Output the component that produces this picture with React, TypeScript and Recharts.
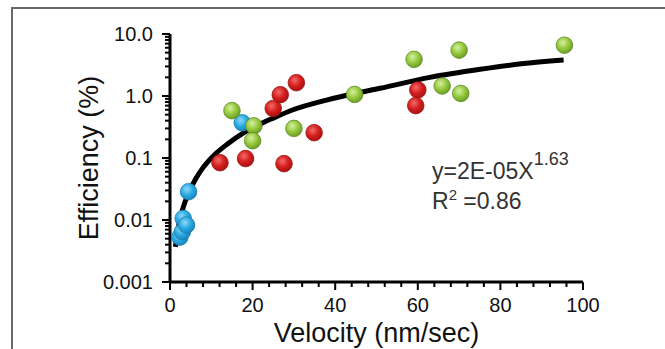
import { ScatterChart, Scatter, XAxis, YAxis } from "recharts"

const greenPoints = [
  { x: 15.0, y: 0.58 },
  { x: 20.3, y: 0.33 },
  { x: 20.0, y: 0.19 },
  { x: 30.0, y: 0.3 },
  { x: 44.7, y: 1.06 },
  { x: 59.1, y: 3.9 },
  { x: 70.0, y: 5.5 },
  { x: 95.5, y: 6.6 },
  { x: 65.9, y: 1.45 },
  { x: 70.4, y: 1.1 },
]

const redPoints = [
  { x: 12.1, y: 0.084 },
  { x: 18.3, y: 0.098 },
  { x: 27.6, y: 0.081 },
  { x: 25.0, y: 0.63 },
  { x: 26.7, y: 1.05 },
  { x: 30.6, y: 1.64 },
  { x: 34.9, y: 0.256 },
  { x: 60.0, y: 1.25 },
  { x: 59.5, y: 0.7 },
]

const bluePoints = [
  { x: 17.5, y: 0.37 },
  { x: 4.5, y: 0.0286 },
  { x: 3.2, y: 0.0106 },
  { x: 2.4, y: 0.0053 },
  { x: 3.0, y: 0.0065 },
  { x: 4.0, y: 0.0083 },
]

// fitted curve
const fitX = [1.3, 2.2, 3.2, 4.5, 6.3, 8, 10.3, 14, 17.6, 21.7, 25, 29.8, 37.9, 44.7, 50.8, 62.9, 75.1, 85, 95.3]
const fitY = [0.0037, 0.0088, 0.016, 0.027, 0.047, 0.07, 0.105, 0.17, 0.25, 0.35, 0.44, 0.6, 0.86, 1.1, 1.33, 2.0, 2.7, 3.3, 3.8]
const fitCurve = fitX.map((x, i) => ({ x, y: fitY[i] }))

const xTicks = [0, 4, 8, 12, 16, 20, 24, 28, 32, 36, 40, 44, 48, 52, 56, 60, 64, 68, 72, 76, 80, 84, 88, 92, 96, 100]
const xMajor = [0, 20, 40, 60, 80, 100]

const yMajor = [0.001, 0.01, 0.1, 1, 10]
const yMajorLabels = ["0.001", "0.01", "0.1", "1.0", "10.0"]
const yMinor = [
  0.002, 0.003, 0.004, 0.005, 0.006, 0.007, 0.008, 0.009,
  0.02, 0.03, 0.04, 0.05, 0.06, 0.07, 0.08, 0.09,
  0.2, 0.3, 0.4, 0.5, 0.6, 0.7, 0.8, 0.9,
  2, 3, 4, 5, 6, 7, 8, 9,
]
const yTicks = [...yMajor, ...yMinor].sort((a, b) => a - b)

const FONT = "'Liberation Sans', Arial, Helvetica, sans-serif"

const XTick = (props: any) => {
  const { x, y, payload } = props
  const major = xMajor.includes(payload.value)
  return (
    <g>
      <line x1={x} y1={y} x2={x} y2={y + (major ? 8 : 5)} stroke="#000" strokeWidth={2} />
      {major && (
        <text x={x} y={y + 30} textAnchor="middle" fontSize={20} fontFamily={FONT} fill="#111">
          {payload.value}
        </text>
      )}
    </g>
  )
}

const YTick = (props: any) => {
  const { x, y, payload } = props
  const idx = yMajor.findIndex((v) => Math.abs(v - payload.value) < 1e-9)
  const major = idx >= 0
  return (
    <g>
      <line x1={x} y1={y} x2={x - (major ? 8 : 5)} y2={y} stroke="#000" strokeWidth={2} />
      {major && (
        <text x={x - 17} y={y} dy="0.35em" textAnchor="end" fontSize={20} fontFamily={FONT} fill="#111">
          {yMajorLabels[idx]}
        </text>
      )}
    </g>
  )
}

const XTitle = (props: any) => {
  const { x, y, width, height } = props.viewBox
  return (
    <text x={x + width / 2} y={y + height - 7} textAnchor="middle" fontSize={27} fontFamily={FONT} fill="#111">
      Velocity (nm/sec)
    </text>
  )
}

const YTitle = (props: any) => {
  const { y, height } = props.viewBox
  const cx = 98
  const cy = y + height / 2
  return (
    <text x={cx} y={cy} transform={`rotate(-90, ${cx}, ${cy})`} textAnchor="middle" fontSize={27} fontFamily={FONT} fill="#111">
      Efficiency (%)
    </text>
  )
}

const ball = (id: string, fallback: string, edge: string) => (props: any) => (
  <circle cx={props.cx} cy={props.cy} r={8.3} fill={`url(#${id}) ${fallback}`} stroke={edge} strokeWidth={0.8} />
)

export default function App() {
  return (
    <div style={{ position: "absolute", left: 0, top: 0, width: 665, height: 349, background: "#fff" }}>
      <svg width={0} height={0} style={{ position: "absolute" }}>
        <defs>
          <radialGradient id="gGreen" cx="40%" cy="35%" r="65%">
            <stop offset="0%" stopColor="#d4f0a0" />
            <stop offset="55%" stopColor="#95c93f" />
            <stop offset="100%" stopColor="#6e9e25" />
          </radialGradient>
          <radialGradient id="gRed" cx="40%" cy="35%" r="65%">
            <stop offset="0%" stopColor="#f26b6b" />
            <stop offset="55%" stopColor="#d61f1f" />
            <stop offset="100%" stopColor="#a81212" />
          </radialGradient>
          <radialGradient id="gBlue" cx="40%" cy="35%" r="65%">
            <stop offset="0%" stopColor="#8fd8f7" />
            <stop offset="55%" stopColor="#2aaae2" />
            <stop offset="100%" stopColor="#1a86bd" />
          </radialGradient>
        </defs>
      </svg>
      <div
        style={{
          position: "absolute",
          left: 11,
          top: 7,
          right: 0,
          bottom: 0,
          borderLeft: "2px solid #6a6a6a",
          borderTop: "2px solid #6a6a6a",
        }}
      />
      <div style={{ position: "absolute", left: 0, top: 0 }}>
        <ScatterChart width={665} height={349} margin={{ top: 34, right: 82, bottom: 0, left: 0 }}>
          <XAxis
            type="number"
            dataKey="x"
            domain={[0, 100]}
            ticks={xTicks}
            interval={0}
            height={67}
            tickSize={0}
            tickMargin={0}
            tickLine={false}
            tick={<XTick />}
            axisLine={{ stroke: "#000", strokeWidth: 3 }}
            label={<XTitle />}
          />
          <YAxis
            type="number"
            dataKey="y"
            scale="log"
            domain={[0.001, 10]}
            allowDataOverflow
            ticks={yTicks}
            interval={0}
            width={170}
            tickSize={0}
            tickMargin={0}
            tickLine={false}
            tick={<YTick />}
            axisLine={{ stroke: "#000", strokeWidth: 3 }}
            label={<YTitle />}
          />
          <Scatter
            data={fitCurve}
            line={{ stroke: "#000", strokeWidth: 5 }}
            lineJointType="monotoneX"
            shape={() => <g />}
            isAnimationActive={false}
          />
          <Scatter data={redPoints} shape={ball("gRed", "#d61f1f", "#9a1414")} isAnimationActive={false} />
          <Scatter data={bluePoints} shape={ball("gBlue", "#2aaae2", "#1a7fb0")} isAnimationActive={false} />
          <Scatter data={greenPoints} shape={ball("gGreen", "#95c93f", "#5f8a22")} isAnimationActive={false} />
          <text x={432} y={179} fontSize={23} fontFamily={FONT} fill="#333">
            y=2E-05X
            <tspan dy={-14} fontSize={18}>1.63</tspan>
          </text>
          <text x={432} y={209} fontSize={23} fontFamily={FONT} fill="#333">
            R
            <tspan dy={-9} fontSize={15}>2</tspan>
            <tspan dy={9}> =0.86</tspan>
          </text>
        </ScatterChart>
      </div>
    </div>
  )
}
